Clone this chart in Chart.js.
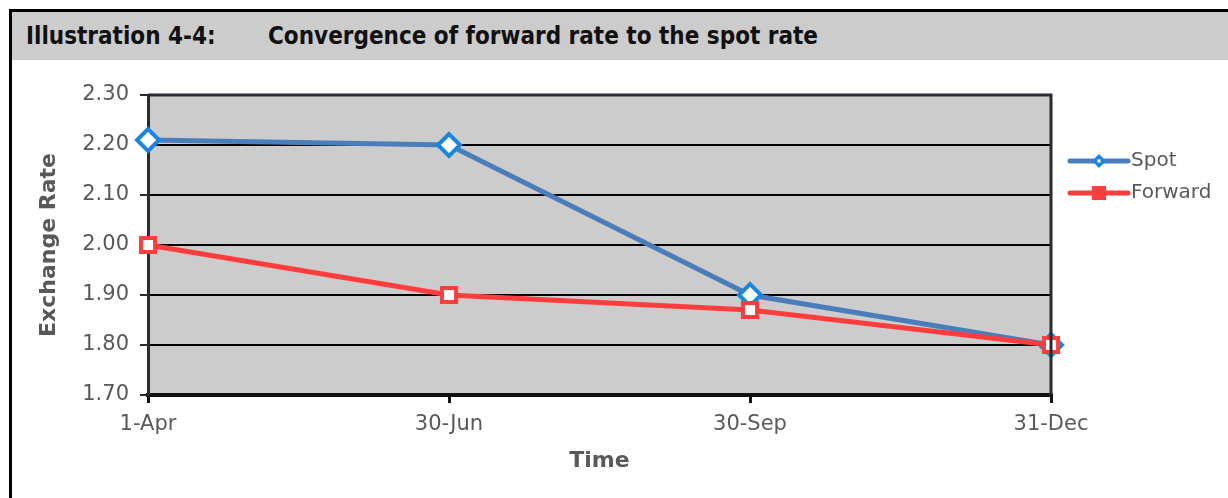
<!DOCTYPE html>
<html>
<head>
<meta charset="utf-8">
<script src="https://cdn.jsdelivr.net/npm/chart.js@4.4.1/dist/chart.umd.min.js"></script>
<style>
  html, body { margin: 0; padding: 0; background: #fff; overflow: hidden; }
  #frame {
    position: absolute; left: 9px; top: 9px; width: 1300px; height: 600px;
    border-left: 3px solid #000; border-top: 3px solid #000;
  }
  #header {
    height: 48px; background: #cccccc;
    font-family: "DejaVu Sans Condensed", "DejaVu Sans", sans-serif;
    font-weight: bold; font-size: 24px; color: #111;
    line-height: 48px; padding-left: 14px; position: relative;
  }
  #header span.b { position: absolute; left: 256px; top: 0; }
  #wrap { position: absolute; left: 0; top: 48px; width: 1216px; height: 438px; }
</style>
</head>
<body>
<div id="frame">
  <div id="header"><span>Illustration 4-4:</span><span class="b">Convergence of forward rate to the spot rate</span></div>
  <div id="wrap"><canvas id="rateChart"></canvas></div>
</div>
<script>
// =========================
// DATA
// =========================
const dates = ["1-Apr", "30-Jun", "30-Sep", "31-Dec"];
const spotRates = [2.21, 2.20, 1.90, 1.80];
const forwardRates = [2.00, 1.90, 1.87, 1.80];

const TICK_FONT = { family: "DejaVu Sans", size: 21 };
const TITLE_FONT = { family: "DejaVu Sans", size: 22, weight: "bold" };
const TEXT_GREY = "#595959";

// grey plot background + dark frame
const plotBox = {
    id: "plotBox",
    beforeDraw(chart) {
        const a = chart.chartArea, ctx = chart.ctx;
        ctx.save();
        ctx.fillStyle = "#cccccc";
        ctx.fillRect(a.left, a.top, a.right - a.left, a.bottom - a.top);
        ctx.restore();
    },
    afterDatasetsDraw(chart) {
        const a = chart.chartArea, ctx = chart.ctx;
        ctx.save();
        ctx.strokeStyle = "#2b2b33";
        ctx.lineWidth = 3;
        ctx.beginPath();
        ctx.moveTo(a.left, a.top);
        ctx.lineTo(a.right, a.top);
        ctx.lineTo(a.right, a.bottom);
        ctx.stroke();
        ctx.restore();
    }
};

// legend with line + marker, like the spreadsheet one
const sideLegend = {
    id: "sideLegend",
    afterDraw(chart) {
        const a = chart.chartArea, ctx = chart.ctx;
        const x0 = a.right + 19;
        let y = a.top + 66;
        ctx.save();
        chart.data.datasets.forEach(ds => {
            ctx.strokeStyle = ds.borderColor;
            ctx.lineWidth = 5;
            ctx.lineCap = "round";
            ctx.beginPath();
            ctx.moveTo(x0, y);
            ctx.lineTo(x0 + 58, y);
            ctx.stroke();
            const cx = x0 + 29;
            ctx.fillStyle = ds.pointBorderColor;
            ctx.beginPath();
            if (ds.pointStyle === "rectRot") {
                ctx.moveTo(cx, y - 7); ctx.lineTo(cx + 7, y); ctx.lineTo(cx, y + 7); ctx.lineTo(cx - 7, y);
                ctx.closePath();
                ctx.fill();
                ctx.fillStyle = "#fff";
                ctx.fillRect(cx - 1.5, y - 1.5, 3, 3);
            } else {
                ctx.rect(cx - 7, y - 7, 14, 14);
                ctx.fill();
            }
            ctx.fillStyle = TEXT_GREY;
            ctx.font = "20px 'DejaVu Sans'";
            ctx.textBaseline = "middle";
            ctx.fillText(ds.label, x0 + 61, y);
            y += 32;
        });
        ctx.restore();
    }
};

new Chart(document.getElementById("rateChart"), {
    type: "line",
    data: {
        labels: dates,
        datasets: [
            {
                label: "Spot",
                data: spotRates,
                borderColor: "#4a7ebb",
                borderWidth: 5,
                pointStyle: "rectRot",
                pointRadius: 11,
                pointBorderWidth: 4,
                pointBorderColor: "#1a86e2",
                pointBackgroundColor: "#ffffff",
                tension: 0,
                order: 2
            },
            {
                label: "Forward",
                data: forwardRates,
                borderColor: "#ff3d3d",
                borderWidth: 5,
                pointStyle: "rect",
                pointRadius: 10,
                pointBorderWidth: 4,
                pointBorderColor: "#ff3d3d",
                pointBackgroundColor: "#ffffff",
                tension: 0,
                order: 1
            }
        ]
    },
    options: {
        responsive: true,
        maintainAspectRatio: false,
        animation: false,
        clip: false,
        layout: { padding: { top: 35, right: 177, bottom: 20, left: 0 } },
        plugins: {
            legend: { display: false },
            tooltip: { enabled: false }
        },
        scales: {
            x: {
                offset: false,
                grid: { display: true, drawOnChartArea: false, tickLength: 8, tickColor: "#111", lineWidth: 3 },
                border: { color: "#111", width: 4 },
                ticks: { font: TICK_FONT, color: TEXT_GREY, padding: 9, maxRotation: 0 },
                title: { display: true, text: "Time", font: TITLE_FONT, color: TEXT_GREY, padding: { top: 10 } },
                afterFit(scale) { scale.height = 83; }
            },
            y: {
                min: 1.7,
                max: 2.3,
                grid: { color: "#000", lineWidth: 2, tickLength: 8, tickColor: "#2b2b33" },
                border: { color: "#2b2b33", width: 3 },
                ticks: {
                    stepSize: 0.1,
                    font: TICK_FONT,
                    color: TEXT_GREY,
                    padding: 11,
                    callback: v => v.toFixed(2)
                },
                title: { display: true, text: "Exchange Rate", font: TITLE_FONT, color: TEXT_GREY, padding: { top: 24, bottom: 0 } },
                afterFit(scale) { scale.width = 136; }
            }
        }
    },
    plugins: [plotBox, sideLegend]
});
</script>
</body>
</html>
